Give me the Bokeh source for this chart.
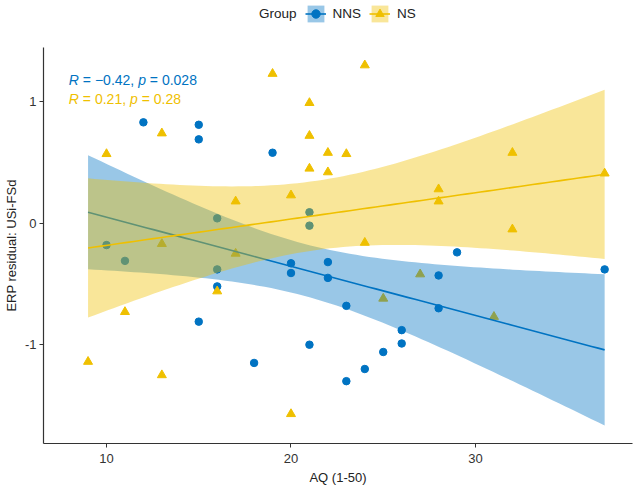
import numpy as np
from bokeh.plotting import figure
from bokeh.layouts import column
from bokeh.models import Range1d, FixedTicker, Label, Legend, LegendItem
from bokeh.embed import file_html
from bokeh.resources import INLINE

# ---------------- data ----------------
nns_x = [12, 15, 15, 19, 16, 21, 21, 10, 11, 16, 16, 20, 20, 22, 22, 15, 21, 18,
         29, 37, 28, 23, 28, 26, 26, 25, 24, 23]
nns_y = [0.83, 0.81, 0.69, 0.58, 0.04, 0.09, -0.02, -0.18, -0.31, -0.38, -0.52,
         -0.33, -0.41, -0.32, -0.45, -0.81, -1.00, -1.15, -0.24, -0.38, -0.43,
         -0.68, -0.70, -0.88, -0.99, -1.06, -1.20, -1.30]
ns_x = [9, 10, 11, 13, 13, 13, 16, 17, 17, 19, 20, 20, 21, 21, 21, 22, 22, 23,
        24, 24, 27, 25, 28, 28, 31, 32, 32, 37]
ns_y = [-1.14, 0.57, -0.73, 0.74, -0.17, -1.25, -0.56, 0.18, -0.25, 1.23, 0.23,
        -1.57, 0.99, 0.72, 0.45, 0.58, 0.42, 0.57, 1.30, -0.16, -0.42, -0.62,
        0.28, 0.18, -0.77, 0.58, -0.05, 0.41]
group_names = ["NNS", "NS"]
legend_title = "Group"
x_ticks = [10, 20, 30]
x_tick_labels = ["10", "20", "30"]
y_ticks = [-1, 0, 1]
y_tick_labels = ["-1", "0", "1"]
x_title = "AQ (1-50)"
y_title = "ERP residual: USi-FSd"
stats = [("-0.42", "0.028"), ("0.21", "0.28")]

BLUE = "#0073C2"
YELLOW = "#EFC000"
FONT = "Liberation Sans"
T975_26 = 2.0555  # t quantile for 95% CI with 26 df

W_FIG = 634
H_LEG = 47
H_MAIN = 487 - H_LEG
B_BOTTOM, B_LEFT, B_RIGHT = 44, 43, 2


def fit_band(x, y, xs):
    x = np.asarray(x, float)
    y = np.asarray(y, float)
    n = len(x)
    b, a = np.polyfit(x, y, 1)
    resid = y - (a + b * x)
    s = np.sqrt(np.sum(resid ** 2) / (n - 2))
    sxx = np.sum((x - x.mean()) ** 2)
    yhat = a + b * xs
    se = s * np.sqrt(1.0 / n + (xs - x.mean()) ** 2 / sxx)
    return yhat, yhat - T975_26 * se, yhat + T975_26 * se


all_x = nns_x + ns_x
xs = np.linspace(min(all_x), max(all_x), 80)
fit_b, lo_b, hi_b = fit_band(nns_x, nns_y, xs)
fit_y, lo_y, hi_y = fit_band(ns_x, ns_y, xs)


def draw_layers(fig):
    """points first, then smooth bands/lines on top (ggplot layer order)"""
    bp = fig.scatter(nns_x, nns_y, marker="circle", size=7.5, color=BLUE)
    yp = fig.scatter(ns_x, ns_y, marker="triangle", size=9, color=YELLOW)
    bb = fig.varea(x=xs, y1=lo_b, y2=hi_b, fill_color=BLUE, fill_alpha=0.4)
    bl = fig.line(xs, fit_b, line_color=BLUE, line_width=1.6)
    yb = fig.varea(x=xs, y1=lo_y, y2=hi_y, fill_color=YELLOW, fill_alpha=0.4)
    yl = fig.line(xs, fit_y, line_color=YELLOW, line_width=1.6)
    return [bb, bl, bp], [yb, yl, yp]


p = figure(width=W_FIG, height=H_MAIN,
           x_range=Range1d(6.585, 38.51), y_range=Range1d(-1.813, 1.446),
           output_backend="svg", toolbar_location=None,
           min_border_top=0, min_border_right=B_RIGHT,
           min_border_left=B_LEFT, min_border_bottom=B_BOTTOM)
p.xgrid.visible = False
p.ygrid.visible = False
p.outline_line_color = None
draw_layers(p)

# axes
p.xaxis.ticker = FixedTicker(ticks=x_ticks)
p.yaxis.ticker = FixedTicker(ticks=y_ticks)
p.xaxis.major_label_overrides = dict(zip(x_ticks, x_tick_labels))
p.yaxis.major_label_overrides = dict(zip(y_ticks, y_tick_labels))
p.xaxis.axis_label = x_title
p.yaxis.axis_label = y_title
for ax in (p.xaxis[0], p.yaxis[0]):
    ax.axis_line_color = "#333333"
    ax.axis_line_width = 1.2
    ax.major_tick_line_color = "#333333"
    ax.minor_tick_line_color = None
    ax.major_tick_in = 0
    ax.major_tick_out = 4
    ax.major_label_text_font = FONT
    ax.major_label_text_font_size = "13px"
    ax.major_label_text_color = "#333333"
    ax.axis_label_text_font = FONT
    ax.axis_label_text_font_size = "13px"
    ax.axis_label_text_font_style = "normal"
    ax.axis_label_text_color = "#222222"
p.xaxis.major_label_standoff = 6
p.xaxis.axis_label_standoff = 4
p.yaxis.major_label_standoff = 3
p.yaxis.axis_label_standoff = 3

# correlation annotations with italic R and p
FS = 14
NBSP = "\u00a0"
W = {"R": 722, " ": 278, NBSP: 278, "=": 584, "\u2212": 584, ".": 278, ",": 278, "p": 556}
def tw(s):
    return sum(W.get(c, 556) for c in s) * FS / 1000.0

ann_x = 7.96
ann_y = [1.18, 1.026]
for (r, pv), yy, col in zip(stats, ann_y, [BLUE, YELLOW]):
    pieces = [("R", "italic"), (" = " + r.replace("-", "\u2212") + ", ", "normal"),
              ("p", "italic"), (" = " + pv, "normal")]
    off = 0.0
    for txt, style in pieces:
        p.add_layout(Label(x=ann_x, y=yy, x_offset=off, text=txt.replace(" ", NBSP),
                           text_font=FONT, text_font_size=f"{FS}px",
                           text_font_style=style, text_color=col,
                           text_baseline="middle", text_align="left"))
        off += tw(txt)

# ---------------- legend strip (same layers, kept outside its visible range) ----
lg = figure(width=W_FIG, height=H_LEG, x_range=Range1d(-3, -2), y_range=Range1d(-9, -8),
            output_backend="svg", toolbar_location=None,
            x_axis_type=None, y_axis_type=None,
            min_border_left=0, min_border_right=0,
            min_border_top=0, min_border_bottom=0)
lg.xgrid.visible = False
lg.ygrid.visible = False
lg.outline_line_color = None
k_blue, k_yellow = draw_layers(lg)

legend = Legend(items=[
    LegendItem(label=legend_title, renderers=[]),
    LegendItem(label=group_names[0], renderers=k_blue),
    LegendItem(label=group_names[1], renderers=k_yellow),
], orientation="horizontal", location=(188, H_LEG - 24))
legend.glyph_width = 21
legend.glyph_height = 21
legend.label_height = 21
legend.label_standoff = 7
legend.spacing = 8
legend.padding = 0
legend.margin = 0
legend.border_line_color = None
legend.background_fill_alpha = 0
legend.label_text_font = FONT
legend.label_text_font_size = "13.5px"
legend.label_text_color = "#222222"
lg.add_layout(legend)

layout = column(lg, p, spacing=0)
open("out.html", "w").write(file_html(layout, INLINE))
